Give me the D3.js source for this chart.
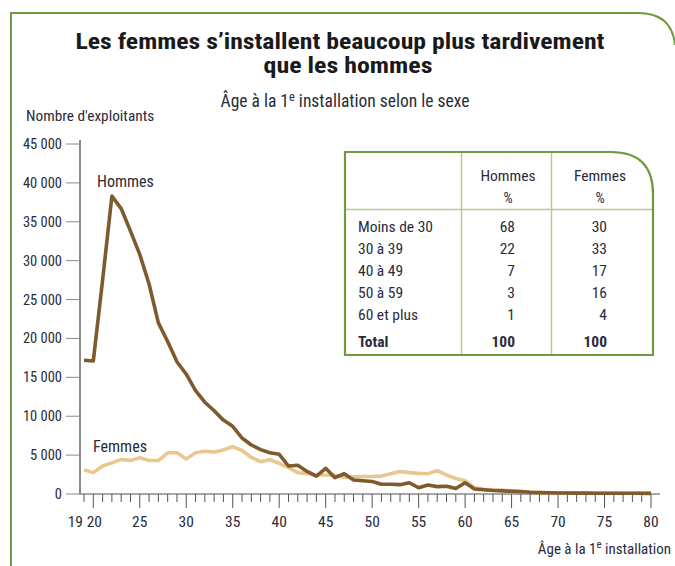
<!DOCTYPE html>
<html><head><meta charset="utf-8">
<script src="https://cdn.jsdelivr.net/npm/d3@7"></script>
<style>
html,body{margin:0;padding:0;background:#fff;}
svg text{font-family:"Liberation Sans Narrow","Roboto Condensed","DejaVu Sans Condensed","Open Sans",sans-serif;}
</style></head>
<body>
<svg id="c" width="675" height="566"></svg>
<script>
const ages = [19,20,21,22,23,24,25,26,27,28,29,30,31,32,33,34,35,36,37,38,39,40,41,42,43,44,45,46,47,48,49,50,51,52,53,54,55,56,57,58,59,60,61,62,63,64,65,66,67,68,69,70,71,72,73,74,75,76,77,78,79,80];
const hommes = [17200,17100,27500,38300,36700,33800,30800,27000,22000,19600,17000,15400,13300,11800,10700,9500,8700,7200,6300,5700,5300,5100,3600,3700,2900,2300,3300,2100,2600,1800,1700,1600,1250,1250,1200,1450,800,1150,950,1000,700,1450,650,550,450,400,350,300,220,180,160,130,120,110,110,100,100,100,90,90,90,80];
const femmes = [3100,2750,3600,4000,4450,4300,4650,4300,4300,5300,5300,4500,5300,5500,5400,5650,6100,5600,4700,4150,4400,3950,3400,2750,2600,2450,2450,2400,2150,2200,2250,2250,2300,2600,2900,2750,2650,2600,3000,2450,2000,1700,800,600,550,500,400,300,220,180,160,130,120,110,110,100,100,90,90,90,80,80];
const yTicks = [0,5000,10000,15000,20000,25000,30000,35000,40000,45000];
const xMajor = [20,25,30,35,40,45,50,55,60,65,70,75,80];
const tableHeader = ["Hommes","Femmes"];
const tableRows = ["Moins de 30","30 à 39","40 à 49","50 à 59","60 et plus"];
const tableHommes = [68,22,7,3,1];
const tableFemmes = [30,33,17,16,4];
const tableTotal = ["Total",100,100];

const svg = d3.select("#c");
const green = "#6f9a3f", lightGreen = "#b2cc94", txt = "#2b2b3a", axisC = "#8a8a8a";

// frame
svg.append("path")
  .attr("d","M11,566 L11,13 L638,13 Q672,13 675,45")
  .attr("fill","none").attr("stroke",green).attr("stroke-width",2);

// titles
svg.append("text").attr("x",340).attr("y",49).attr("text-anchor","middle")
  .attr("font-size",22).attr("font-weight","bold").attr("fill","#1a1a1a")
  .attr("textLength",529).attr("lengthAdjust","spacingAndGlyphs")
  .text("Les femmes s’installent beaucoup plus tardivement");
svg.append("text").attr("x",348).attr("y",73).attr("text-anchor","middle")
  .attr("font-size",22).attr("font-weight","bold").attr("fill","#1a1a1a")
  .attr("textLength",169).attr("lengthAdjust","spacingAndGlyphs")
  .text("que les hommes");
const sub = svg.append("text").attr("x",345).attr("y",107).attr("text-anchor","middle")
  .attr("font-size",17.5).attr("fill",txt);
sub.append("tspan").text("Âge à la 1");
sub.append("tspan").attr("dy",-6).attr("font-size",12.5).text("e");
sub.append("tspan").attr("dy",6).text(" installation selon le sexe");

svg.append("text").attr("x",26).attr("y",121).attr("font-size",15.3).attr("fill",txt)
  .text("Nombre d'exploitants");

// scales
const x = d3.scaleLinear().domain([20,80]).range([93.3,651]);
const y = d3.scaleLinear().domain([0,45000]).range([494,144]);

// y axis
svg.append("line").attr("x1",80).attr("x2",80).attr("y1",494).attr("y2",140)
  .attr("stroke",axisC).attr("stroke-width",2);
const yg = svg.append("g");
yTicks.forEach(t=>{
  yg.append("line").attr("x1",66).attr("x2",80).attr("y1",y(t)).attr("y2",y(t))
    .attr("stroke",axisC).attr("stroke-width",1);
  yg.append("text").attr("x",62).attr("y",y(t)+5).attr("text-anchor","end")
    .attr("font-size",14.5).attr("fill",txt).text(d3.format(",")(t).replace(/,/g," "));
});

// x axis
svg.append("line").attr("x1",79).attr("x2",660).attr("y1",494).attr("y2",494)
  .attr("stroke",axisC).attr("stroke-width",1.5);
ages.forEach(a=>{
  const major = xMajor.includes(a);
  svg.append("line").attr("x1",x(a)).attr("x2",x(a)).attr("y1",494).attr("y2",major?508:502)
    .attr("stroke","#555").attr("stroke-width",1);
});
xMajor.forEach(a=>{
  svg.append("text").attr("x",x(a)+(a===20?1:0)).attr("y",527).attr("text-anchor","middle")
    .attr("font-size",15.5).attr("fill",txt).text(a);
});
svg.append("text").attr("x",x(19)-1).attr("y",527).attr("text-anchor","end")
  .attr("font-size",15.5).attr("fill",txt).text(ages[0]);
const xt = svg.append("text").attr("x",671).attr("y",554).attr("text-anchor","end")
  .attr("font-size",15).attr("fill",txt);
xt.append("tspan").text("Âge à la 1");
xt.append("tspan").attr("dy",-6).attr("font-size",11).text("e");
xt.append("tspan").attr("dy",6).text(" installation");

// lines
const line = d3.line().x((d,i)=>x(ages[i])).y(d=>y(d));
svg.append("path").datum(femmes).attr("d",line).attr("fill","none")
  .attr("stroke","#e9c78f").attr("stroke-width",3.6).attr("stroke-linejoin","round");
svg.append("path").datum(hommes).attr("d",line).attr("fill","none")
  .attr("stroke","#7f5a2d").attr("stroke-width",3.6).attr("stroke-linejoin","round");

svg.append("text").attr("x",97).attr("y",187).attr("font-size",16).attr("fill",txt).text("Hommes");
svg.append("text").attr("x",93).attr("y",452).attr("font-size",16).attr("fill",txt).text("Femmes");

// table
const tL=345,tT=152,tR=653,tB=355,r=42;
const tg = svg.append("g");
tg.append("path")
  .attr("d",`M${tL},${tT} L${tR-r},${tT} Q${tR},${tT} ${tR},${tT+r} L${tR},${tB} L${tL},${tB} Z`)
  .attr("fill","#fff").attr("stroke",green).attr("stroke-width",2.2);
[461.5,551.5].forEach(cx=>tg.append("line").attr("x1",cx).attr("x2",cx).attr("y1",tT+1).attr("y2",tB-1)
  .attr("stroke",lightGreen).attr("stroke-width",1.5));
tg.append("line").attr("x1",tL+1).attr("x2",tR-1).attr("y1",209.5).attr("y2",209.5)
  .attr("stroke",lightGreen).attr("stroke-width",1.5);
const colC=[508,600], colR=[515,607];
tableHeader.forEach((h,i)=>{
  tg.append("text").attr("x",colC[i]).attr("y",181).attr("text-anchor","middle")
    .attr("font-size",15.5).attr("fill",txt).text(h);
  tg.append("text").attr("x",colC[i]).attr("y",203).attr("text-anchor","middle")
    .attr("font-size",14.5).attr("fill",txt).text("%");
});
const rowY=[232,254,276,298,320];
tableRows.forEach((lab,i)=>{
  tg.append("text").attr("x",358).attr("y",rowY[i]).attr("font-size",15.5).attr("fill",txt).text(lab);
  tg.append("text").attr("x",colR[0]).attr("y",rowY[i]).attr("text-anchor","end").attr("font-size",15.5).attr("fill",txt).text(tableHommes[i]);
  tg.append("text").attr("x",colR[1]).attr("y",rowY[i]).attr("text-anchor","end").attr("font-size",15.5).attr("fill",txt).text(tableFemmes[i]);
});
tg.append("text").attr("x",358).attr("y",347).attr("font-size",15.5).attr("font-weight","bold").attr("fill",txt).text(tableTotal[0]);
tg.append("text").attr("x",colR[0]).attr("y",347).attr("text-anchor","end").attr("font-size",15.5).attr("font-weight","bold").attr("fill",txt).text(tableTotal[1]);
tg.append("text").attr("x",colR[1]).attr("y",347).attr("text-anchor","end").attr("font-size",15.5).attr("font-weight","bold").attr("fill",txt).text(tableTotal[2]);
</script>
</body></html>
